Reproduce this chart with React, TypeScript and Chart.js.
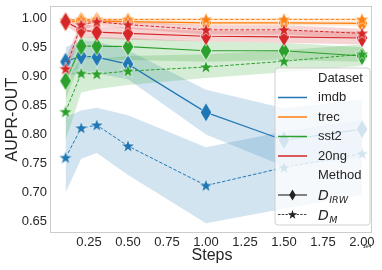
import React, { useEffect, useRef } from "react";
import { Chart, registerables } from "chart.js";

Chart.register(...registerables);

// ---------- data ----------
const STEPS = [1000, 2000, 3000, 5000, 10000, 15000, 20000];
const DATASET_NAMES = ["imdb", "trec", "sst2", "20ng"];
const COLORS = ["#1f77b4", "#ff7f0e", "#2ca02c", "#d62728"];
const METHOD_MAIN = ["D", "D"];
const METHOD_SUB = ["IRW", "M"];
const LEGEND_TITLES = ["Dataset", "Method"];
const X_TICKS = [2500, 5000, 7500, 10000, 12500, 15000, 17500, 20000];
const Y_TICKS = [0.65, 0.7, 0.75, 0.8, 0.85, 0.9, 0.95, 1.0];
const X_LABEL = "Steps";
const Y_LABEL = "AUPR-OUT";
const X_OFFSET_TEXT = "1e4";

// D_IRW (mean, low, high)
const IMDB_IRW = [0.925, 0.935, 0.933, 0.921, 0.838, 0.790, 0.809];
const IMDB_IRW_LO = [0.900, 0.905, 0.905, 0.895, 0.800, 0.745, 0.760];
const IMDB_IRW_HI = [0.950, 0.962, 0.960, 0.945, 0.877, 0.845, 0.860];
const TREC_IRW = [0.994, 0.995, 0.995, 0.994, 0.992, 0.992, 0.991];
const TREC_IRW_LO = [0.990, 0.991, 0.991, 0.990, 0.988, 0.988, 0.987];
const TREC_IRW_HI = [0.997, 0.998, 0.998, 0.997, 0.995, 0.995, 0.995];
const SST2_IRW = [0.892, 0.952, 0.952, 0.951, 0.944, 0.944, 0.935];
const SST2_IRW_LO = [0.860, 0.930, 0.930, 0.928, 0.925, 0.928, 0.925];
const SST2_IRW_HI = [0.920, 0.968, 0.968, 0.966, 0.960, 0.958, 0.950];
const NG_IRW = [0.994, 0.980, 0.976, 0.974, 0.969, 0.968, 0.966];
const NG_IRW_LO = [0.988, 0.968, 0.965, 0.963, 0.960, 0.958, 0.955];
const NG_IRW_HI = [0.999, 0.990, 0.986, 0.984, 0.978, 0.978, 0.977];

// D_M (mean, low, high)
const IMDB_M = [0.760, 0.811, 0.816, 0.780, 0.712, 0.743, 0.767];
const IMDB_M_LO = [0.700, 0.758, 0.768, 0.730, 0.647, 0.672, 0.696];
const IMDB_M_HI = [0.830, 0.841, 0.846, 0.833, 0.778, 0.805, 0.825];
const TREC_M = [0.997, 0.998, 0.998, 0.998, 0.998, 0.998, 0.998];
const TREC_M_LO = [0.995, 0.996, 0.996, 0.996, 0.996, 0.996, 0.996];
const TREC_M_HI = [0.999, 1.0, 1.0, 1.0, 1.0, 1.0, 1.0];
const SST2_M = [0.839, 0.905, 0.904, 0.909, 0.916, 0.926, 0.938];
const SST2_M_LO = [0.790, 0.872, 0.878, 0.885, 0.897, 0.907, 0.918];
const SST2_M_HI = [0.885, 0.935, 0.930, 0.935, 0.938, 0.945, 0.955];
const NG_M = [0.913, 0.989, 0.994, 0.989, 0.980, 0.980, 0.974];
const NG_M_LO = [0.895, 0.980, 0.988, 0.982, 0.972, 0.972, 0.966];
const NG_M_HI = [0.930, 0.996, 0.999, 0.995, 0.988, 0.988, 0.982];

const SERIES = [
  { ds: 0, m: 0, mean: IMDB_IRW, lo: IMDB_IRW_LO, hi: IMDB_IRW_HI },
  { ds: 0, m: 1, mean: IMDB_M, lo: IMDB_M_LO, hi: IMDB_M_HI },
  { ds: 1, m: 0, mean: TREC_IRW, lo: TREC_IRW_LO, hi: TREC_IRW_HI },
  { ds: 1, m: 1, mean: TREC_M, lo: TREC_M_LO, hi: TREC_M_HI },
  { ds: 2, m: 0, mean: SST2_IRW, lo: SST2_IRW_LO, hi: SST2_IRW_HI },
  { ds: 2, m: 1, mean: SST2_M, lo: SST2_M_LO, hi: SST2_M_HI },
  { ds: 3, m: 0, mean: NG_IRW, lo: NG_IRW_LO, hi: NG_IRW_HI },
  { ds: 3, m: 1, mean: NG_M, lo: NG_M_LO, hi: NG_M_HI },
];

// ---------- styling ----------
const FONT = "'Liberation Sans', Arial, sans-serif";
const TEXT_COLOR = "#262626";

function hexToRgba(hex: string, a: number) {
  const n = parseInt(hex.slice(1), 16);
  return `rgba(${(n >> 16) & 255},${(n >> 8) & 255},${n & 255},${a})`;
}

function diamondPath(ctx: CanvasRenderingContext2D, cx: number, cy: number, w: number, h: number) {
  ctx.beginPath();
  ctx.moveTo(cx, cy - h / 2);
  ctx.lineTo(cx + w / 2, cy);
  ctx.lineTo(cx, cy + h / 2);
  ctx.lineTo(cx - w / 2, cy);
  ctx.closePath();
}

function starPath(ctx: CanvasRenderingContext2D, cx: number, cy: number, R: number, ratio: number) {
  ctx.beginPath();
  for (let i = 0; i < 10; i++) {
    const a = -Math.PI / 2 + (i * Math.PI) / 5;
    const r = i % 2 === 0 ? R : R * ratio;
    const x = cx + r * Math.cos(a);
    const y = cy + r * Math.sin(a);
    if (i === 0) ctx.moveTo(x, y);
    else ctx.lineTo(x, y);
  }
  ctx.closePath();
}

function makeDiamond(color: string) {
  const c = document.createElement("canvas");
  c.width = 14;
  c.height = 22;
  const ctx = c.getContext("2d")!;
  diamondPath(ctx, 7, 11, 11.6, 19.4);
  ctx.fillStyle = color;
  ctx.fill();
  ctx.strokeStyle = "#ffffff";
  ctx.lineWidth = 0.7;
  ctx.stroke();
  return c;
}

function makeStar(color: string) {
  const c = document.createElement("canvas");
  c.width = 16;
  c.height = 16;
  const ctx = c.getContext("2d")!;
  starPath(ctx, 8, 8.4, 7.2, 0.4);
  ctx.fillStyle = color;
  ctx.fill();
  ctx.strokeStyle = "#ffffff";
  ctx.lineWidth = 0.6;
  ctx.stroke();
  return c;
}

const customPlugin = {
  id: "customDecor",
  afterDatasetsDraw(chart: any) {
    const ctx: CanvasRenderingContext2D = chart.ctx;
    const { left, right, top, bottom } = chart.chartArea;
    ctx.save();
    // spines
    ctx.strokeStyle = "#cccccc";
    ctx.lineWidth = 1;
    ctx.strokeRect(Math.round(left) - 0.5, Math.round(top) - 0.5, Math.round(right - left) + 1, Math.round(bottom - top) + 1);

    // legend
    const bx = 275, by = 68, bw = 95, bh = 157, r = 3;
    ctx.beginPath();
    ctx.moveTo(bx + r, by);
    ctx.lineTo(bx + bw - r, by);
    ctx.arcTo(bx + bw, by, bx + bw, by + r, r);
    ctx.lineTo(bx + bw, by + bh - r);
    ctx.arcTo(bx + bw, by + bh, bx + bw - r, by + bh, r);
    ctx.lineTo(bx + r, by + bh);
    ctx.arcTo(bx, by + bh, bx, by + bh - r, r);
    ctx.lineTo(bx, by + r);
    ctx.arcTo(bx, by, bx + r, by, r);
    ctx.closePath();
    ctx.fillStyle = "rgba(255,255,255,0.8)";
    ctx.fill();
    ctx.strokeStyle = "rgba(204,204,204,0.9)";
    ctx.lineWidth = 1;
    ctx.stroke();

    const rowY = [78, 97.5, 117, 136.5, 156, 175.5, 195, 214.5];
    const hx0 = 278, hx1 = 307, tx = 318;
    ctx.font = `13px ${FONT}`;
    ctx.fillStyle = TEXT_COLOR;
    ctx.textBaseline = "middle";
    ctx.textAlign = "left";
    ctx.fillText(LEGEND_TITLES[0], tx, rowY[0]);
    DATASET_NAMES.forEach((name, i) => {
      const y = rowY[1 + i];
      ctx.strokeStyle = COLORS[i];
      ctx.lineWidth = 1.5;
      ctx.setLineDash([]);
      ctx.beginPath();
      ctx.moveTo(hx0, y);
      ctx.lineTo(hx1, y);
      ctx.stroke();
      ctx.fillStyle = TEXT_COLOR;
      ctx.font = `13px ${FONT}`;
      ctx.fillText(name, tx, y);
    });
    ctx.fillText(LEGEND_TITLES[1], tx, rowY[5]);
    for (let m = 0; m < 2; m++) {
      const y = rowY[6 + m];
      ctx.strokeStyle = "#333333";
      ctx.lineWidth = m === 0 ? 1.2 : 0.9;
      ctx.setLineDash(m === 0 ? [] : [2.5, 1.2]);
      ctx.beginPath();
      ctx.moveTo(hx0, y);
      ctx.lineTo(hx1, y);
      ctx.stroke();
      ctx.setLineDash([]);
      ctx.fillStyle = "#222222";
      if (m === 0) diamondPath(ctx, (hx0 + hx1) / 2, y, 6.5, 11);
      else starPath(ctx, (hx0 + hx1) / 2, y + 0.3, 4.8, 0.4);
      ctx.fill();
      // label: italic D with italic subscript
      ctx.fillStyle = TEXT_COLOR;
      ctx.textBaseline = "alphabetic";
      ctx.font = `italic 14px 'DejaVu Sans', sans-serif`;
      const base = y + 5;
      ctx.fillText(METHOD_MAIN[m], tx, base);
      const w = ctx.measureText(METHOD_MAIN[m]).width;
      ctx.font = `italic 9.5px 'DejaVu Sans', sans-serif`;
      ctx.fillText(METHOD_SUB[m], tx + w + 0.5, base + 3);
      ctx.textBaseline = "middle";
    }
    ctx.restore();
  },
  afterDraw(chart: any) {
    const ctx: CanvasRenderingContext2D = chart.ctx;
    const { left, right, top, bottom } = chart.chartArea;
    ctx.save();
    ctx.fillStyle = TEXT_COLOR;
    ctx.font = `16px ${FONT}`;
    ctx.textAlign = "center";
    ctx.textBaseline = "alphabetic";
    ctx.fillText(X_LABEL, (left + right) / 2 + 1, 260);
    ctx.translate(17, (top + bottom) / 2);
    ctx.rotate(-Math.PI / 2);
    ctx.fillText(Y_LABEL, 0, 0);
    ctx.restore();
    ctx.save();
    ctx.fillStyle = TEXT_COLOR;
    ctx.font = `5px ${FONT}`;
    ctx.textAlign = "right";
    ctx.textBaseline = "middle";
    ctx.fillText(X_OFFSET_TEXT, right, 247);
    ctx.restore();
  },
};

export default function App() {
  const ref = useRef<HTMLCanvasElement | null>(null);

  useEffect(() => {
    if (!ref.current) return;
    const diamonds = COLORS.map(makeDiamond);
    const stars = COLORS.map(makeStar);

    const datasets: any[] = [];
    // bands (drawn first, beneath all lines)
    SERIES.forEach((s, k) => {
      const color = COLORS[s.ds];
      datasets.push({
        data: STEPS.map((x, i) => ({ x, y: s.lo[i] })),
        borderColor: "transparent",
        borderWidth: 0,
        pointRadius: 0,
        fill: false,
        order: 200 - k,
      });
      datasets.push({
        data: STEPS.map((x, i) => ({ x, y: s.hi[i] })),
        borderColor: "transparent",
        borderWidth: 0,
        pointRadius: 0,
        backgroundColor: hexToRgba(color, 0.2),
        fill: "-1",
        order: 200 - k,
      });
    });
    // lines with markers
    SERIES.forEach((s, k) => {
      const color = COLORS[s.ds];
      datasets.push({
        data: STEPS.map((x, i) => ({ x, y: s.mean[i] })),
        borderColor: color,
        borderWidth: s.m === 0 ? 1.2 : 1.0,
        borderDash: s.m === 0 ? [] : [3.5, 1.8],
        pointStyle: s.m === 0 ? diamonds[s.ds] : stars[s.ds],
        pointRadius: 6,
        pointHoverRadius: 6,
        fill: false,
        order: 100 - k,
      });
    });

    const chart = new Chart(ref.current, {
      type: "line",
      data: { datasets },
      options: {
        animation: false,
        responsive: false,
        events: [],
        layout: { padding: { top: 4, right: 11, left: 0, bottom: 0 } },
        plugins: { legend: { display: false }, tooltip: { enabled: false } },
        elements: { line: { tension: 0 } },
        scales: {
          x: {
            type: "linear",
            min: 64,
            max: 20580,
            grid: { display: false, drawTicks: false },
            border: { display: false },
            afterBuildTicks: (s: any) => {
              s.ticks = X_TICKS.map((v) => ({ value: v }));
            },
            afterFit: (s: any) => {
              s.height = 38;
              s.paddingLeft = 0;
              s.paddingRight = 0;
            },
            ticks: {
              autoSkip: false,
              maxRotation: 0,
              padding: 3,
              color: TEXT_COLOR,
              font: { family: FONT, size: 13 },
              callback: (v: any) => (Number(v) / 1e4).toFixed(2),
            },
          },
          y: {
            type: "linear",
            min: 0.632,
            max: 1.019,
            grid: { display: false, drawTicks: false },
            border: { display: false },
            afterBuildTicks: (s: any) => {
              s.ticks = Y_TICKS.map((v) => ({ value: v }));
            },
            afterFit: (s: any) => {
              s.width = 51;
              s.paddingTop = 0;
              s.paddingBottom = 0;
            },
            ticks: {
              autoSkip: false,
              padding: 4,
              color: TEXT_COLOR,
              font: { family: FONT, size: 13 },
              callback: (v: any) => Number(v).toFixed(2),
            },
          },
        },
      },
      plugins: [customPlugin],
    });
    return () => chart.destroy();
  }, []);

  return (
    <div style={{ position: "absolute", left: 0, top: 0, width: 382, height: 270, background: "#ffffff" }}>
      <canvas ref={ref} width={382} height={270} style={{ display: "block", width: 382, height: 270 }} />
    </div>
  );
}
